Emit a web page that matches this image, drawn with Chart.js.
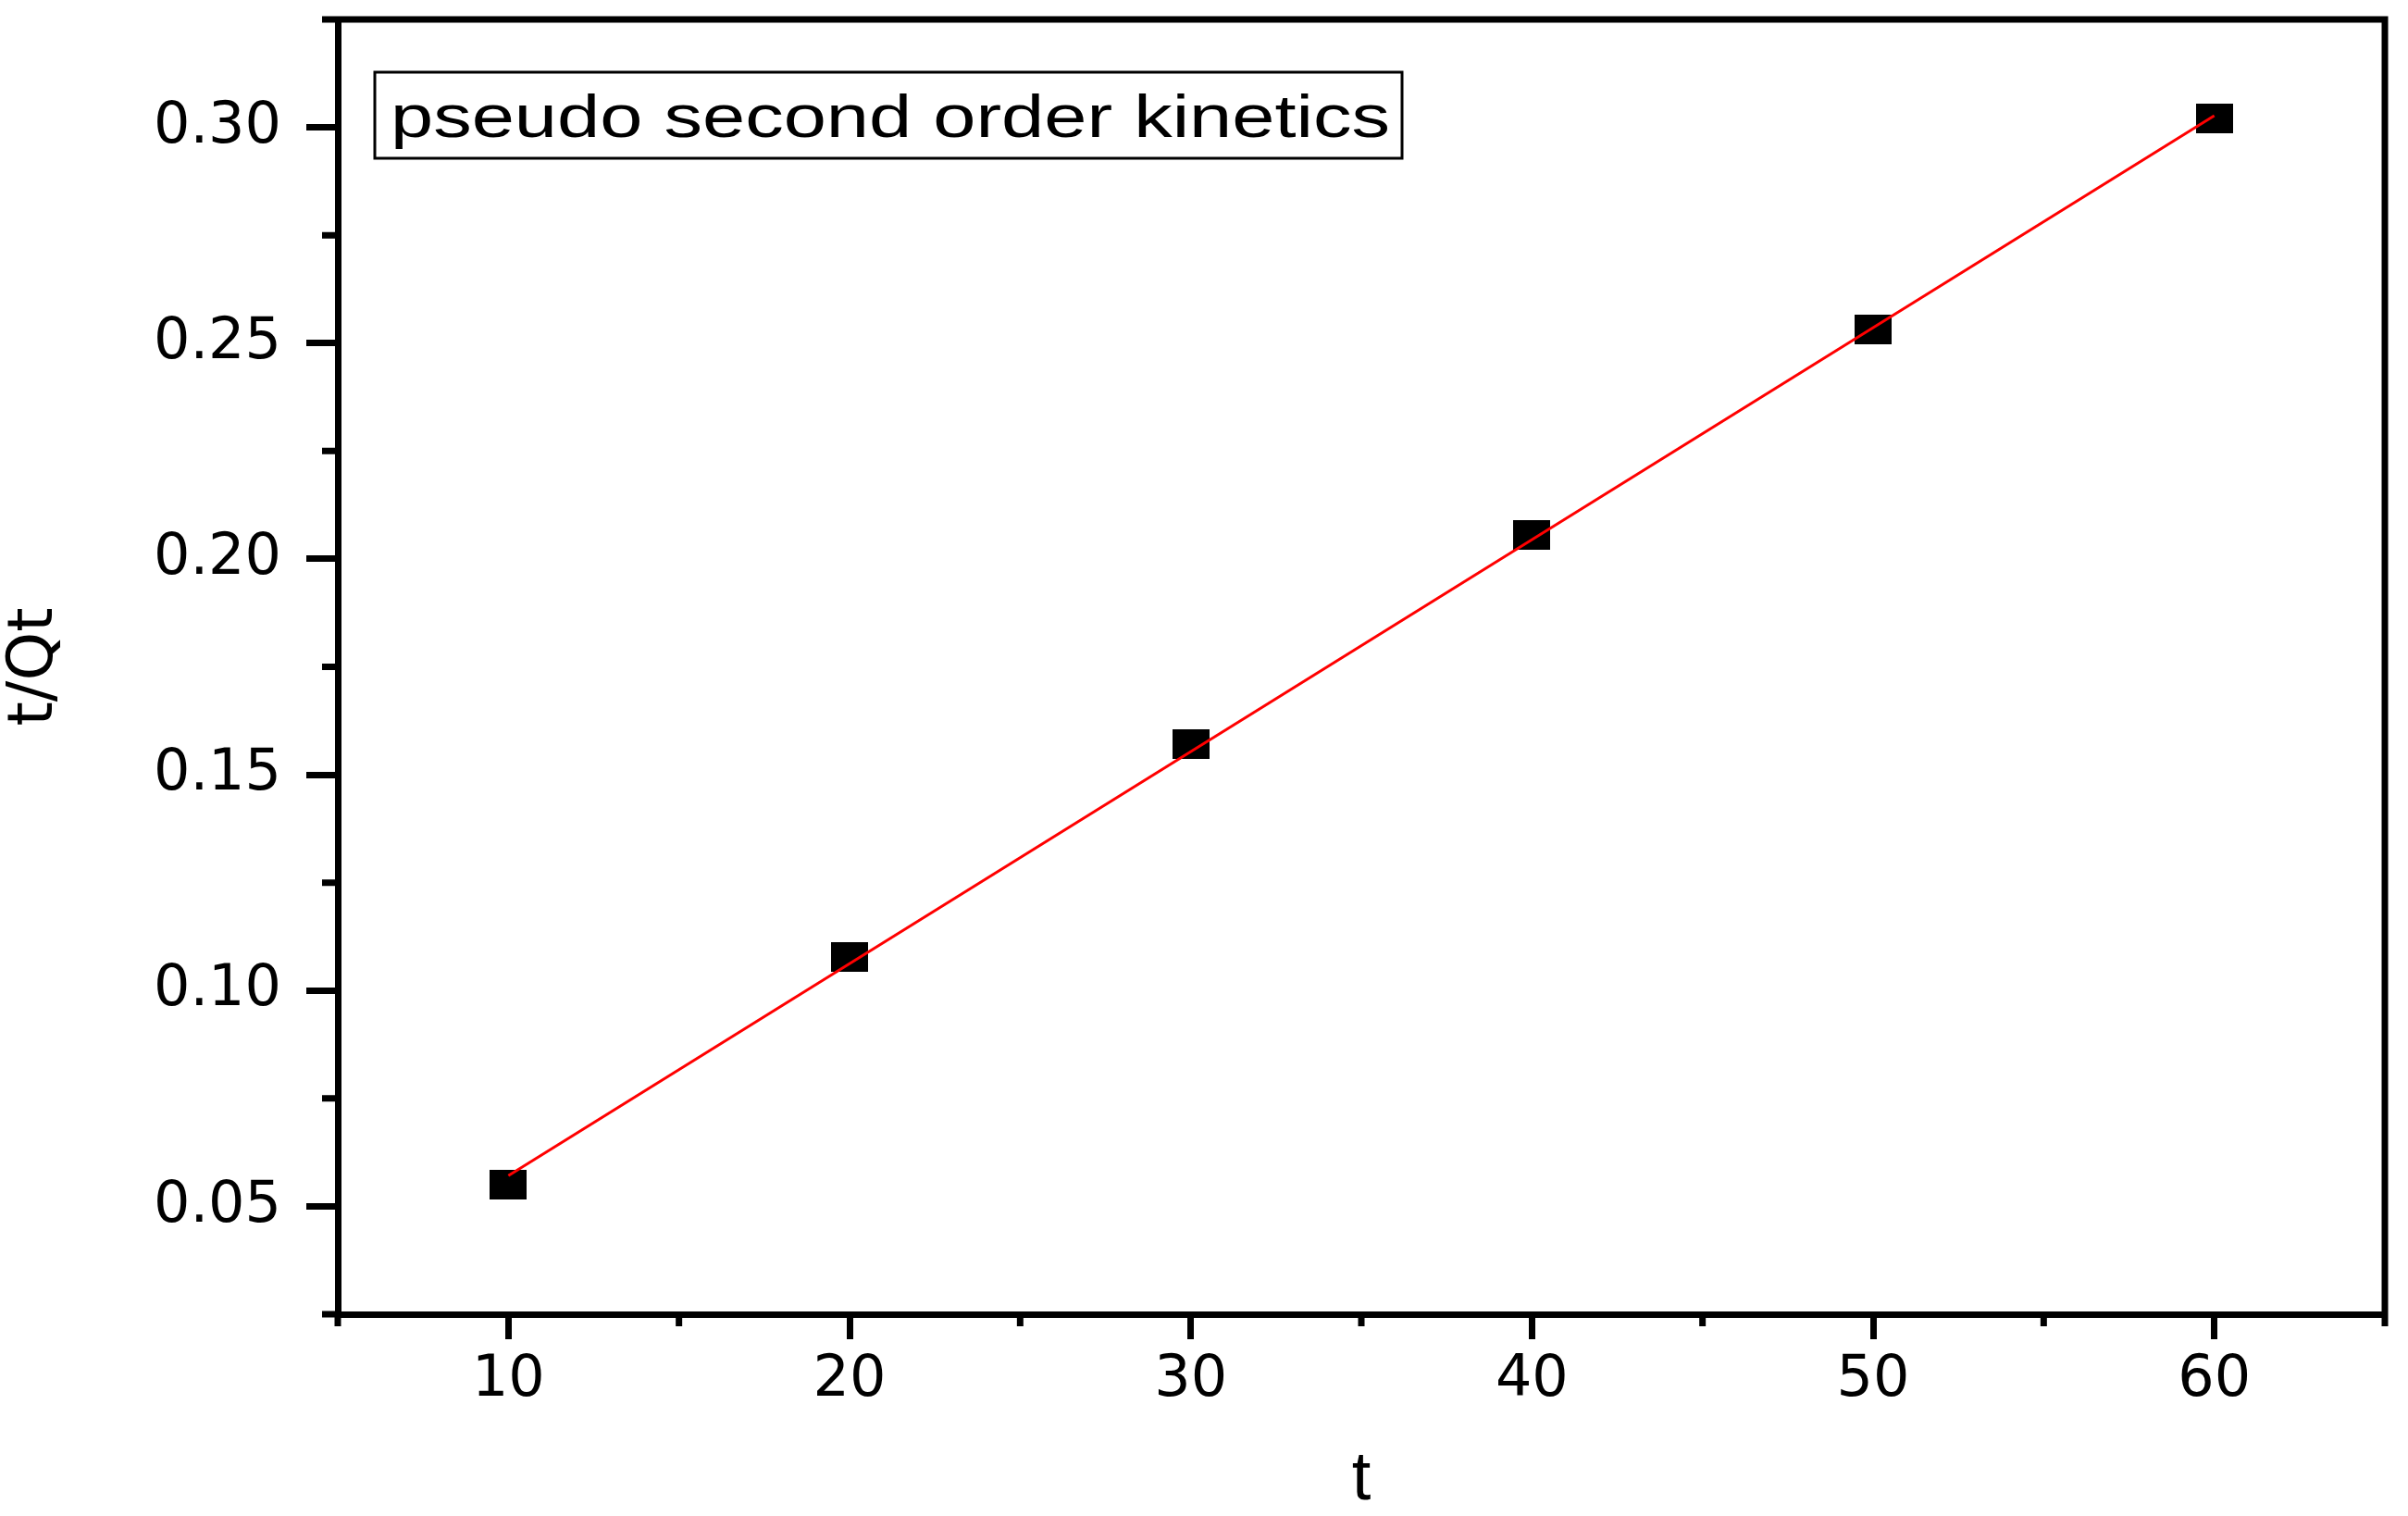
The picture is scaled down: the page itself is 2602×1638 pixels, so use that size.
<!DOCTYPE html>
<html>
<head>
<meta charset="utf-8">
<script src="https://cdn.jsdelivr.net/npm/chart.js@4.4.1/dist/chart.umd.min.js"></script>
<style>
html, body { margin: 0; padding: 0; background: #fff; }
#wrap { width: 2602px; height: 1638px; position: relative; }
</style>
</head>
<body>
<div id="wrap"><canvas id="chart"></canvas></div>
<script>
// measured points
const timeValues = [10, 20, 30, 40, 50, 60];
const tQtValues = [0.0550, 0.1077, 0.1572, 0.2056, 0.2532, 0.3020];

const fitTimes = [10, 60];
const fitValues = [0.0571, 0.3027];

// axis ticks
const xTickValues = [10, 20, 30, 40, 50, 60];
const yTickValues = [0.05, 0.10, 0.15, 0.20, 0.25, 0.30];
const xMinorTicks = [5, 15, 25, 35, 45, 55, 65];
const yMinorTicks = [0.025, 0.075, 0.125, 0.175, 0.225, 0.275, 0.325];

const boxLabel = 'pseudo second order kinetics';

// black rectangle marker
const marker = document.createElement('canvas');
marker.width = 40;
marker.height = 32;
const mctx = marker.getContext('2d');
mctx.fillStyle = '#000';
mctx.fillRect(0, 0, 40, 32);

// frame + minor ticks
const frameAndMinor = {
    id: 'frameAndMinor',
    afterDraw(chart) {
        const {ctx, chartArea: a, scales: {x, y}} = chart;
        ctx.save();
        ctx.strokeStyle = '#000';
        ctx.lineWidth = 7;
        ctx.lineCap = 'butt';
        ctx.beginPath();
        ctx.moveTo(a.left, a.top);
        ctx.lineTo(a.right, a.top);
        ctx.lineTo(a.right, a.bottom);
        ctx.stroke();

        ctx.beginPath();
        xMinorTicks.forEach(v => {
            const px = x.getPixelForValue(v);
            ctx.moveTo(px, a.bottom);
            ctx.lineTo(px, a.bottom + 13);
        });
        yMinorTicks.forEach(v => {
            const py = y.getPixelForValue(v);
            ctx.moveTo(a.left - 17, py);
            ctx.lineTo(a.left, py);
        });
        ctx.stroke();
        ctx.restore();
    }
};

// boxed label in the top left corner
const textBox = {
    id: 'textBox',
    afterDraw(chart) {
        const {ctx, chartArea: a} = chart;
        const left = a.left + 40, top = a.top + 57, w = 1110, h = 93;
        ctx.save();
        ctx.lineWidth = 3;
        ctx.strokeStyle = '#000';
        ctx.strokeRect(left, top, w, h);
        ctx.font = '64px "Liberation Sans", Arial, sans-serif';
        ctx.fillStyle = '#000';
        ctx.textBaseline = 'alphabetic';
        const tw = ctx.measureText(boxLabel).width;
        ctx.translate(left + 17, top + 70);
        ctx.scale(1080 / tw, 1);
        ctx.fillText(boxLabel, 0, 0);
        ctx.restore();
    }
};

new Chart(document.getElementById('chart'), {
    type: 'scatter',
    data: {
        datasets: [
            {
                type: 'line',
                label: 'fit',
                data: fitTimes.map((t, i) => ({x: t, y: fitValues[i]})),
                borderColor: '#ff0000',
                borderWidth: 3,
                pointRadius: 0,
                fill: false,
                order: 0
            },
            {
                label: 't/Qt',
                data: timeValues.map((t, i) => ({x: t, y: tQtValues[i]})),
                pointStyle: marker,
                pointRadius: 20,
                backgroundColor: '#000',
                borderColor: '#000',
                showLine: false,
                order: 1
            }
        ]
    },
    options: {
        responsive: true,
        maintainAspectRatio: false,
        animation: false,
        layout: { padding: { top: 20, right: 25, bottom: 0, left: 0 } },
        plugins: {
            legend: { display: false },
            tooltip: { enabled: false }
        },
        scales: {
            x: {
                type: 'linear',
                position: 'bottom',
                min: 5,
                max: 65,
                afterBuildTicks: s => { s.ticks = xTickValues.map(v => ({value: v})); },
                afterFit: s => { s.height = 218; s.paddingLeft = 0; s.paddingRight = 0; },
                ticks: {
                    color: '#000',
                    font: { family: 'DejaVu Sans', size: 62, lineHeight: 1.2 },
                    padding: 8,
                    maxRotation: 0,
                    autoSkip: false
                },
                grid: { drawOnChartArea: false, drawTicks: true, tickLength: 27, tickWidth: 7, tickColor: '#000' },
                border: { display: true, color: '#000', width: 7 },
                title: {
                    display: true,
                    text: 't',
                    color: '#000',
                    font: { family: 'Liberation Sans', size: 74, lineHeight: 1 },
                    padding: { top: 0, bottom: 1 }
                }
            },
            y: {
                type: 'linear',
                position: 'left',
                min: 0.025,
                max: 0.325,
                afterBuildTicks: s => { s.ticks = yTickValues.map(v => ({value: v})); },
                afterFit: s => { s.width = 365; s.paddingTop = 0; s.paddingBottom = 0; },
                ticks: {
                    color: '#000',
                    font: { family: 'DejaVu Sans', size: 62, lineHeight: 1.2 },
                    padding: 27,
                    callback: v => Number(v).toFixed(2)
                },
                grid: { drawOnChartArea: false, drawTicks: true, tickLength: 34, tickWidth: 7, tickColor: '#000' },
                border: { display: true, color: '#000', width: 7 },
                title: {
                    display: true,
                    text: 't/Qt',
                    color: '#000',
                    font: { family: 'DejaVu Sans', size: 67, lineHeight: 1.15 },
                    padding: { top: 0, bottom: 0 }
                }
            }
        }
    },
    plugins: [frameAndMinor, textBox]
});
</script>
</body>
</html>
